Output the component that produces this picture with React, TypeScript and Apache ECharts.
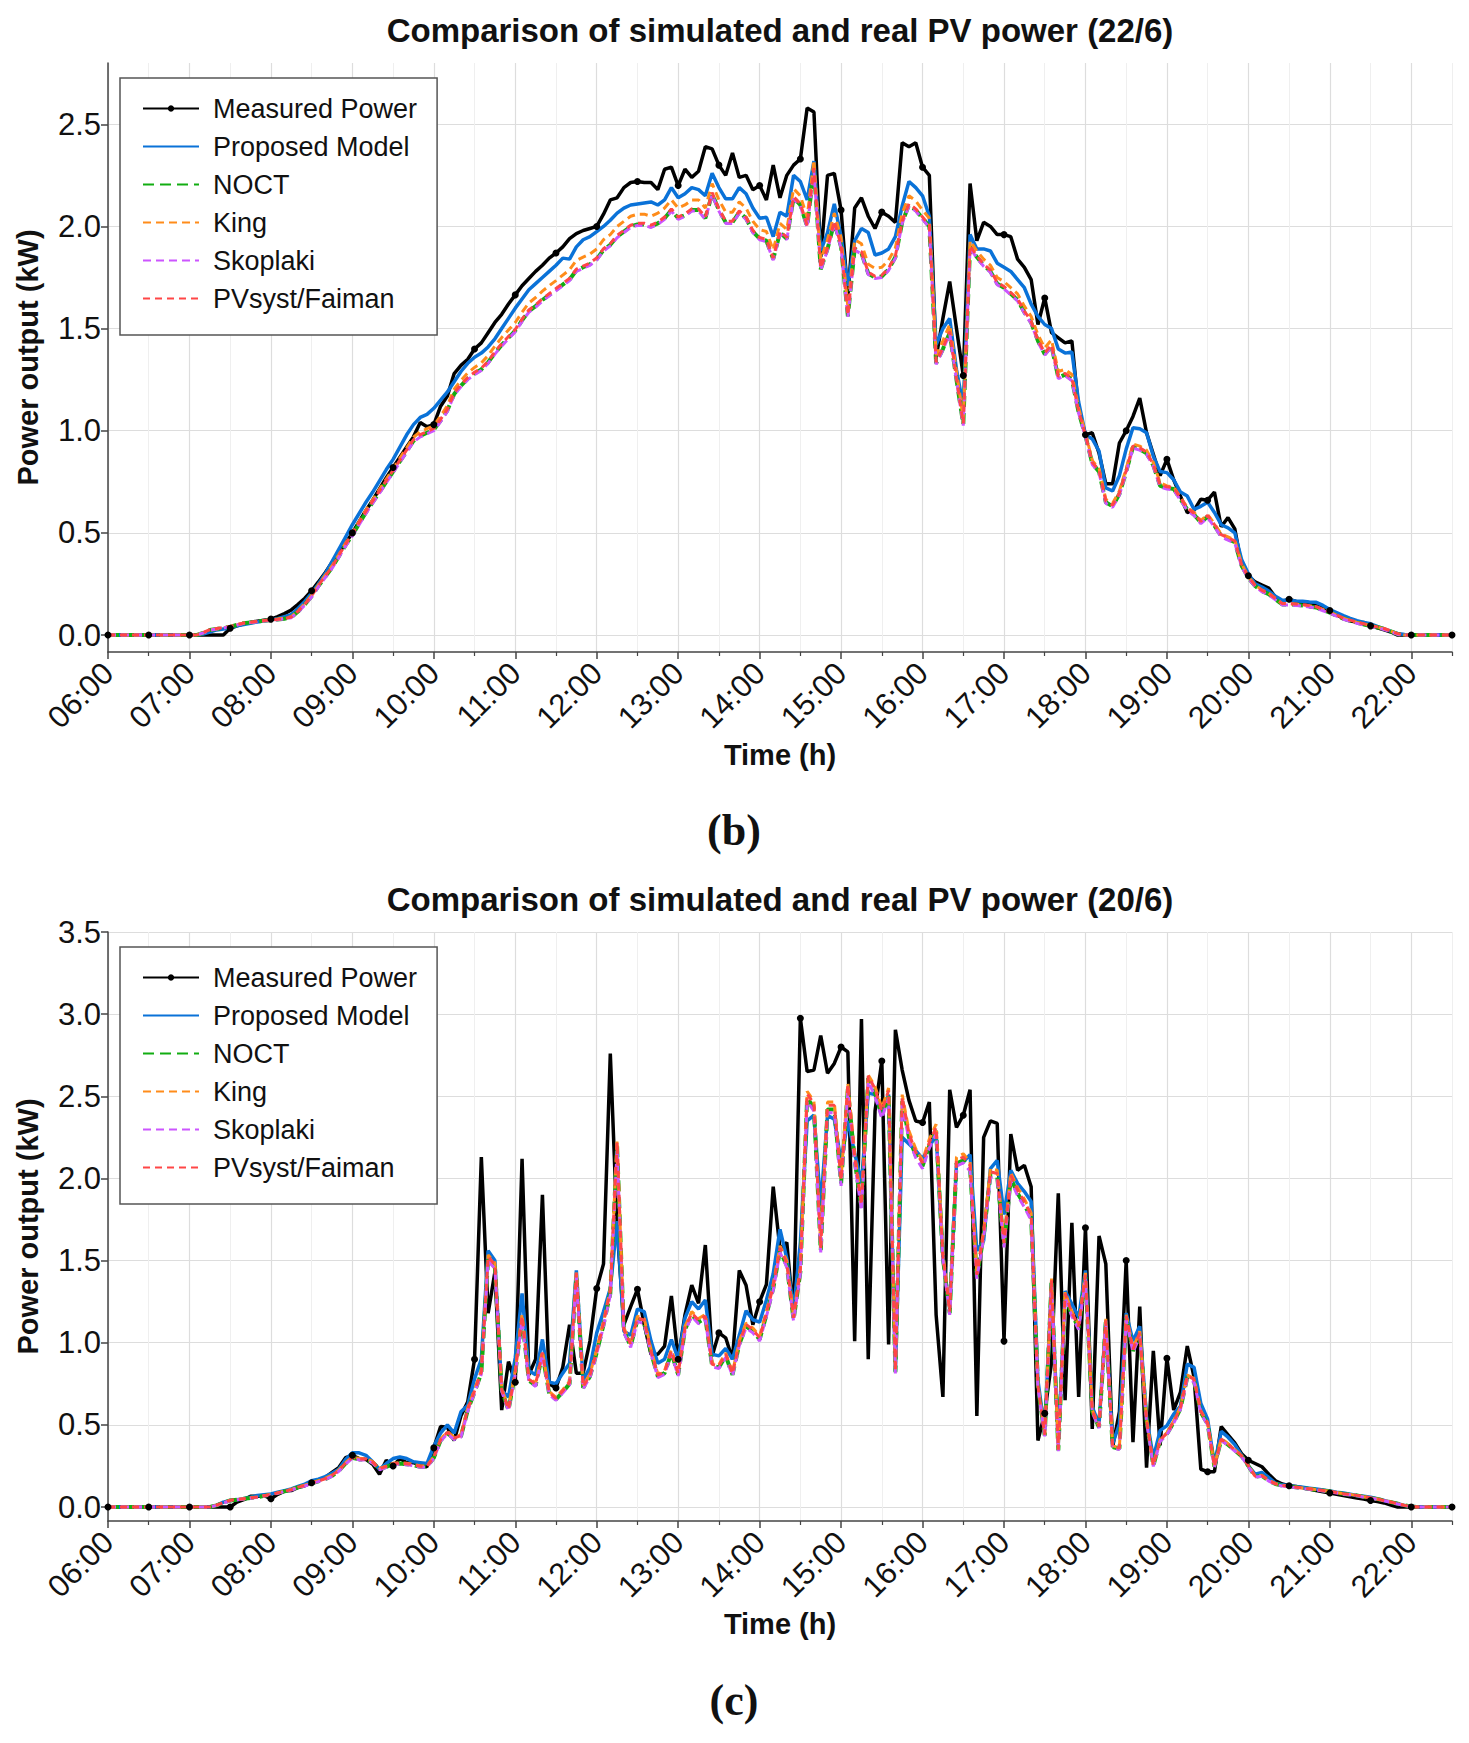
import React, { useEffect, useRef } from "react";
import * as echarts from "echarts";

// ---------- sampling (5-minute records starting 06:00) ----------
const START_HOUR = 6;
const STEP_MIN = 5;

// ---------- tick labels ----------
const hourTicks = [6, 7, 8, 9, 10, 11, 12, 13, 14, 15, 16, 17, 18, 19, 20, 21, 22];
const halfHourTicks = [6.5, 7.5, 8.5, 9.5, 10.5, 11.5, 12.5, 13.5, 14.5, 15.5, 16.5, 17.5, 18.5, 19.5, 20.5, 21.5, 22.5];
const yTicks22 = [0, 0.5, 1, 1.5, 2, 2.5];
const yTicks20 = [0, 0.5, 1, 1.5, 2, 2.5, 3, 3.5];

const seriesNames = ["Measured Power", "Proposed Model", "NOCT", "King", "Skoplaki", "PVsyst/Faiman"];
const chartTitles = [
  "Comparison of simulated and real PV power (22/6)",
  "Comparison of simulated and real PV power (20/6)",
];
const panelLabels = ["(b)", "(c)"];

// ================= 22/6 (one row = one hour, 12 x 5 min) =================
const measured22 = [
  0, 0, 0, 0, 0, 0, 0, 0, 0, 0, 0, 0,
  0, 0, 0, 0, 0, 0, 0.033, 0.045, 0.055, 0.062, 0.068, 0.073,
  0.078, 0.09, 0.105, 0.123, 0.15, 0.18, 0.217, 0.26, 0.305, 0.355, 0.4, 0.45,
  0.5, 0.555, 0.61, 0.66, 0.715, 0.77, 0.82, 0.87, 0.92, 0.97, 1.04, 1.02,
  1.03, 1.12, 1.17, 1.28, 1.32, 1.35, 1.4, 1.43, 1.48, 1.53, 1.57, 1.62,
  1.665, 1.71, 1.745, 1.78, 1.81, 1.845, 1.87, 1.9, 1.94, 1.965, 1.98, 1.99,
  2.0, 2.06, 2.13, 2.14, 2.19, 2.215, 2.22, 2.215, 2.215, 2.18, 2.28, 2.29,
  2.2, 2.28, 2.24, 2.27, 2.39, 2.38, 2.3, 2.25, 2.36, 2.24, 2.25, 2.18,
  2.2, 2.13, 2.3, 2.14, 2.25, 2.3, 2.33, 2.58, 2.56, 1.85, 2.25, 2.26,
  2.08, 1.66, 2.09, 2.14, 2.05, 1.99, 2.07, 2.05, 2.02, 2.41, 2.39, 2.41,
  2.29, 2.25, 1.36, 1.55, 1.73, 1.5, 1.27, 2.21, 1.93, 2.02, 2.0, 1.96,
  1.96, 1.95, 1.84, 1.8, 1.74, 1.52, 1.65, 1.48, 1.455, 1.43, 1.44, 1.1,
  0.98, 0.99, 0.89, 0.74, 0.74, 0.94, 1.0, 1.07, 1.16, 0.99, 0.885, 0.78,
  0.86, 0.76, 0.68, 0.6, 0.61, 0.665, 0.66, 0.7, 0.53, 0.575, 0.52, 0.34,
  0.29, 0.26, 0.245, 0.23, 0.185, 0.165, 0.175, 0.165, 0.15, 0.155, 0.145, 0.135,
  0.12, 0.1, 0.08, 0.07, 0.062, 0.062, 0.045, 0.035, 0.025, 0.015, 0, 0,
  0, 0, 0, 0, 0, 0, 0,
];
const proposed22 = [
  0, 0, 0, 0, 0, 0, 0, 0, 0, 0, 0, 0,
  0, 0, 0.005, 0.015, 0.025, 0.03, 0.035, 0.045, 0.052, 0.058, 0.064, 0.07,
  0.075, 0.08, 0.09, 0.1, 0.13, 0.165, 0.205, 0.25, 0.3, 0.36, 0.42, 0.48,
  0.54, 0.595, 0.65, 0.7, 0.755, 0.81, 0.86, 0.92, 0.98, 1.03, 1.065, 1.08,
  1.11, 1.15, 1.19, 1.24, 1.29, 1.33, 1.36, 1.38, 1.41, 1.45, 1.5, 1.55,
  1.6, 1.645, 1.69, 1.72, 1.75, 1.78, 1.81, 1.845, 1.84, 1.9, 1.935, 1.95,
  1.975, 2.0, 2.03, 2.065, 2.09, 2.105, 2.11, 2.115, 2.12, 2.105, 2.13, 2.19,
  2.14, 2.16, 2.19, 2.18, 2.15, 2.26, 2.19, 2.135, 2.135, 2.19, 2.16, 2.09,
  2.04, 2.045, 1.95, 2.07, 2.05, 2.25, 2.22, 2.13, 2.32, 1.88, 1.97, 2.11,
  1.95, 1.71, 1.93, 1.99, 1.97, 1.86, 1.87, 1.89, 1.95, 2.1, 2.22, 2.19,
  2.15, 2.05, 1.42, 1.5, 1.55, 1.3, 1.12, 1.96, 1.89, 1.89, 1.88, 1.82,
  1.8, 1.78, 1.74, 1.7, 1.62, 1.56, 1.52, 1.5, 1.4, 1.38, 1.385, 1.14,
  0.98, 0.96, 0.9, 0.72, 0.705, 0.78, 0.91, 1.015, 1.01, 0.99, 0.875, 0.8,
  0.795, 0.76, 0.7, 0.68, 0.615, 0.63, 0.65, 0.6, 0.54, 0.525, 0.5, 0.37,
  0.3, 0.25, 0.235, 0.215, 0.19, 0.17, 0.17, 0.167, 0.165, 0.162, 0.16, 0.145,
  0.125, 0.11, 0.095, 0.082, 0.07, 0.062, 0.055, 0.042, 0.03, 0.018, 0.008, 0.003,
  0, 0, 0, 0, 0, 0, 0,
];
const noct22 = [
  0, 0, 0, 0, 0, 0, 0, 0, 0, 0, 0, 0,
  0, 0, 0.01, 0.025, 0.03, 0.035, 0.04, 0.05, 0.058, 0.062, 0.066, 0.07,
  0.073, 0.076, 0.08, 0.087, 0.115, 0.15, 0.19, 0.24, 0.285, 0.33, 0.385, 0.44,
  0.49, 0.545, 0.6, 0.65, 0.7, 0.75, 0.8, 0.85, 0.9, 0.95, 0.975, 0.99,
  1.005, 1.05, 1.1, 1.18, 1.22, 1.255, 1.28, 1.3, 1.335, 1.38, 1.42, 1.455,
  1.49, 1.54, 1.585, 1.61, 1.64, 1.665, 1.69, 1.715, 1.74, 1.785, 1.8, 1.815,
  1.84, 1.885, 1.91, 1.95, 1.975, 2.0, 2.01, 2.01, 2.0, 2.015, 2.04, 2.08,
  2.04, 2.055, 2.08, 2.08, 2.04, 2.16, 2.08, 2.02, 2.02, 2.07, 2.04, 1.975,
  1.94, 1.93, 1.84, 1.97, 1.94, 2.14, 2.105, 2.0, 2.28, 1.79, 1.89, 2.02,
  1.9, 1.56, 1.89, 1.87, 1.77, 1.75, 1.755, 1.79, 1.85, 2.02, 2.105, 2.08,
  2.04, 2.0, 1.33, 1.4, 1.48, 1.25, 1.03, 1.9, 1.85, 1.81, 1.78, 1.72,
  1.7, 1.67, 1.64, 1.58, 1.53, 1.44, 1.375, 1.415, 1.26, 1.275, 1.25, 1.09,
  0.975, 0.84, 0.8, 0.65, 0.63, 0.69, 0.8, 0.92, 0.91, 0.89, 0.83, 0.73,
  0.72, 0.715, 0.665, 0.615, 0.59, 0.55, 0.58, 0.535, 0.485, 0.47, 0.455, 0.34,
  0.28, 0.24, 0.215, 0.2, 0.175, 0.15, 0.15, 0.148, 0.145, 0.14, 0.135, 0.122,
  0.11, 0.095, 0.08, 0.07, 0.06, 0.052, 0.045, 0.038, 0.03, 0.018, 0.005, 0,
  0, 0, 0, 0, 0, 0, 0,
];
const king22 = [
  0, 0, 0, 0, 0, 0, 0, 0, 0, 0, 0, 0,
  0, 0, 0.01, 0.025, 0.03, 0.035, 0.04, 0.05, 0.058, 0.062, 0.066, 0.07,
  0.075, 0.078, 0.083, 0.09, 0.118, 0.155, 0.195, 0.245, 0.292, 0.338, 0.393, 0.45,
  0.5, 0.556, 0.612, 0.662, 0.713, 0.764, 0.815, 0.866, 0.917, 0.968, 0.995, 1.01,
  1.025, 1.072, 1.123, 1.204, 1.246, 1.283, 1.31, 1.332, 1.368, 1.414, 1.456, 1.493,
  1.53, 1.58, 1.625, 1.652, 1.683, 1.71, 1.735, 1.762, 1.788, 1.834, 1.85, 1.865,
  1.89, 1.935, 1.96, 2.0, 2.025, 2.05, 2.06, 2.06, 2.05, 2.065, 2.09, 2.13,
  2.09, 2.105, 2.13, 2.13, 2.09, 2.21, 2.13, 2.07, 2.07, 2.12, 2.09, 2.025,
  1.985, 1.975, 1.885, 2.015, 1.985, 2.185, 2.15, 2.045, 2.325, 1.835, 1.935, 2.065,
  1.945, 1.605, 1.935, 1.915, 1.815, 1.795, 1.8, 1.835, 1.895, 2.065, 2.15, 2.125,
  2.08, 2.04, 1.37, 1.44, 1.52, 1.29, 1.06, 1.93, 1.88, 1.84, 1.81, 1.75,
  1.73, 1.7, 1.67, 1.61, 1.56, 1.47, 1.405, 1.445, 1.29, 1.3, 1.275, 1.11,
  0.99, 0.855, 0.815, 0.665, 0.645, 0.705, 0.815, 0.935, 0.925, 0.905, 0.845, 0.745,
  0.73, 0.725, 0.675, 0.625, 0.6, 0.56, 0.59, 0.545, 0.495, 0.48, 0.465, 0.35,
  0.285, 0.245, 0.22, 0.205, 0.178, 0.153, 0.153, 0.151, 0.148, 0.143, 0.138, 0.125,
  0.112, 0.097, 0.082, 0.072, 0.062, 0.054, 0.046, 0.039, 0.031, 0.019, 0.006, 0,
  0, 0, 0, 0, 0, 0, 0,
];
const skoplaki22 = [
  0, 0, 0, 0, 0, 0, 0, 0, 0, 0, 0, 0,
  0, 0, 0.01, 0.024, 0.03, 0.035, 0.04, 0.049, 0.057, 0.061, 0.065, 0.069,
  0.072, 0.075, 0.079, 0.085, 0.112, 0.147, 0.186, 0.236, 0.281, 0.326, 0.38, 0.435,
  0.485, 0.54, 0.595, 0.645, 0.695, 0.745, 0.795, 0.845, 0.895, 0.945, 0.97, 0.985,
  1.0, 1.045, 1.095, 1.175, 1.215, 1.25, 1.275, 1.295, 1.33, 1.375, 1.415, 1.45,
  1.485, 1.535, 1.58, 1.605, 1.635, 1.66, 1.685, 1.71, 1.735, 1.78, 1.795, 1.81,
  1.835, 1.88, 1.905, 1.945, 1.97, 1.995, 2.005, 2.005, 1.995, 2.01, 2.035, 2.075,
  2.035, 2.05, 2.075, 2.075, 2.035, 2.155, 2.075, 2.015, 2.015, 2.065, 2.035, 1.97,
  1.935, 1.925, 1.835, 1.965, 1.935, 2.135, 2.1, 1.995, 2.275, 1.785, 1.885, 2.015,
  1.895, 1.555, 1.885, 1.865, 1.765, 1.745, 1.75, 1.785, 1.845, 2.015, 2.1, 2.075,
  2.035, 1.995, 1.325, 1.395, 1.475, 1.245, 1.025, 1.895, 1.845, 1.805, 1.775, 1.715,
  1.695, 1.665, 1.635, 1.575, 1.525, 1.435, 1.37, 1.41, 1.255, 1.27, 1.245, 1.085,
  0.97, 0.835, 0.795, 0.645, 0.625, 0.685, 0.795, 0.915, 0.905, 0.885, 0.825, 0.725,
  0.715, 0.71, 0.66, 0.61, 0.585, 0.545, 0.575, 0.53, 0.48, 0.465, 0.45, 0.335,
  0.277, 0.237, 0.212, 0.197, 0.172, 0.147, 0.147, 0.145, 0.142, 0.137, 0.132, 0.119,
  0.107, 0.092, 0.077, 0.067, 0.057, 0.049, 0.042, 0.035, 0.027, 0.015, 0.003, 0,
  0, 0, 0, 0, 0, 0, 0,
];
const pvsyst22 = [
  0, 0, 0, 0, 0, 0, 0, 0, 0, 0, 0, 0,
  0, 0, 0.012, 0.027, 0.032, 0.037, 0.042, 0.051, 0.059, 0.063, 0.067, 0.071,
  0.074, 0.077, 0.081, 0.088, 0.117, 0.152, 0.192, 0.243, 0.289, 0.334, 0.39, 0.445,
  0.496, 0.551, 0.606, 0.656, 0.706, 0.756, 0.806, 0.856, 0.906, 0.956, 0.981, 0.996,
  1.011, 1.056, 1.106, 1.186, 1.226, 1.261, 1.286, 1.306, 1.341, 1.386, 1.426, 1.461,
  1.496, 1.546, 1.591, 1.616, 1.646, 1.671, 1.696, 1.721, 1.746, 1.791, 1.806, 1.821,
  1.846, 1.891, 1.916, 1.956, 1.981, 2.006, 2.016, 2.016, 2.006, 2.021, 2.046, 2.086,
  2.046, 2.061, 2.086, 2.086, 2.046, 2.166, 2.086, 2.026, 2.026, 2.076, 2.046, 1.981,
  1.946, 1.936, 1.846, 1.976, 1.946, 2.146, 2.111, 2.006, 2.286, 1.796, 1.896, 2.026,
  1.906, 1.566, 1.896, 1.876, 1.776, 1.756, 1.761, 1.796, 1.856, 2.026, 2.111, 2.086,
  2.046, 2.006, 1.336, 1.406, 1.486, 1.256, 1.036, 1.906, 1.856, 1.816, 1.786, 1.726,
  1.706, 1.676, 1.646, 1.586, 1.536, 1.446, 1.381, 1.421, 1.266, 1.281, 1.256, 1.096,
  0.981, 0.846, 0.806, 0.656, 0.636, 0.696, 0.806, 0.926, 0.916, 0.896, 0.836, 0.736,
  0.726, 0.721, 0.671, 0.621, 0.596, 0.556, 0.586, 0.541, 0.491, 0.476, 0.461, 0.346,
  0.284, 0.244, 0.219, 0.204, 0.179, 0.154, 0.154, 0.152, 0.149, 0.144, 0.139, 0.126,
  0.113, 0.098, 0.083, 0.073, 0.063, 0.055, 0.047, 0.04, 0.032, 0.02, 0.007, 0,
  0, 0, 0, 0, 0, 0, 0,
];

// ================= 20/6 =================
const measured20 = [
  0, 0, 0, 0, 0, 0, 0, 0, 0, 0, 0, 0,
  0, 0, 0, 0, 0, 0, 0, 0.03, 0.045, 0.065, 0.065, 0.07,
  0.05, 0.077, 0.097, 0.1, 0.12, 0.13, 0.148, 0.16, 0.18, 0.21, 0.24, 0.3,
  0.315, 0.295, 0.29, 0.26, 0.2, 0.285, 0.25, 0.295, 0.27, 0.27, 0.255, 0.245,
  0.36, 0.49, 0.485, 0.405, 0.555, 0.64, 0.9, 2.13, 1.18, 1.43, 0.59, 0.885,
  0.76, 2.12, 0.805, 0.9, 1.9, 0.75, 0.725, 0.85, 1.11, 0.815, 0.815, 1.01,
  1.33, 1.48, 2.76, 1.7, 1.11, 1.22, 1.325, 1.11, 0.93, 0.93, 0.98, 1.285,
  0.9, 1.17, 1.35, 1.24, 1.595, 0.92, 1.06, 1.03, 0.9, 1.44, 1.35, 1.11,
  1.25, 1.355, 1.95, 1.57, 1.61, 1.16, 2.975, 2.65, 2.66, 2.87, 2.64, 2.7,
  2.8, 2.77, 1.01, 2.97, 0.9, 2.41, 2.715, 0.99, 2.905, 2.66, 2.475, 2.35,
  2.34, 2.465, 1.17, 0.67, 2.54, 2.31, 2.385, 2.54, 0.555, 2.25, 2.35, 2.335,
  1.01, 2.27, 2.05, 2.08, 1.95, 0.405, 0.57, 0.88, 1.91, 0.65, 1.73, 0.67,
  1.7, 0.475, 1.65, 1.48, 0.365, 0.58, 1.5, 0.395, 1.22, 0.24, 0.95, 0.375,
  0.905, 0.59, 0.7, 0.98, 0.79, 0.23, 0.215, 0.215, 0.49, 0.44, 0.39, 0.325,
  0.285, 0.265, 0.245, 0.2, 0.16, 0.14, 0.13, 0.125, 0.118, 0.11, 0.1, 0.093,
  0.085, 0.078, 0.07, 0.062, 0.055, 0.048, 0.04, 0.033, 0.025, 0.012, 0, 0,
  0, 0, 0, 0, 0, 0, 0,
];
const proposed20 = [
  0, 0, 0, 0, 0, 0, 0, 0, 0, 0, 0, 0,
  0, 0, 0, 0, 0.01, 0.03, 0.04, 0.045, 0.05, 0.06, 0.07, 0.075,
  0.08, 0.09, 0.1, 0.11, 0.125, 0.14, 0.16, 0.17, 0.185, 0.205, 0.23, 0.29,
  0.33, 0.33, 0.315, 0.275, 0.23, 0.265, 0.295, 0.305, 0.295, 0.275, 0.27, 0.265,
  0.37, 0.45, 0.5, 0.45, 0.58, 0.62, 0.78, 0.9, 1.56, 1.5, 0.71, 0.67,
  0.91, 1.3, 0.83, 0.805, 1.02, 0.76, 0.75, 0.815, 0.875, 1.44, 0.77, 0.85,
  1.06, 1.19, 1.33, 1.74, 1.07, 1.045, 1.205, 1.19, 1.01, 0.875, 0.9, 1.02,
  0.9, 1.15, 1.25, 1.205, 1.26, 0.93, 0.92, 0.965, 0.9, 1.045, 1.195, 1.14,
  1.125, 1.26, 1.42, 1.69, 1.515, 1.195, 1.61, 2.35, 2.385, 1.835, 2.385, 2.36,
  2.1, 2.35, 2.155, 1.97, 2.52, 2.51, 2.385, 2.51, 0.83, 2.25, 2.21, 2.17,
  2.12, 2.19, 2.27, 1.515, 1.205, 2.09, 2.1, 2.145, 1.56, 1.62, 2.06, 2.11,
  1.78, 2.05, 1.97, 1.92, 1.86, 0.77, 0.465, 1.365, 0.385, 1.315, 1.235, 1.155,
  1.44, 0.61, 0.505, 1.135, 0.385, 0.505, 1.18, 1.01, 1.1, 0.545, 0.3, 0.465,
  0.495, 0.565, 0.615, 0.87, 0.85, 0.63, 0.535, 0.26, 0.46, 0.425, 0.38, 0.315,
  0.25, 0.2, 0.21, 0.18, 0.145, 0.135, 0.13, 0.125, 0.12, 0.115, 0.11, 0.104,
  0.098, 0.09, 0.085, 0.078, 0.07, 0.065, 0.06, 0.05, 0.04, 0.03, 0.02, 0.01,
  0.005, 0, 0, 0, 0, 0, 0,
];
const noct20 = [
  0, 0, 0, 0, 0, 0, 0, 0, 0, 0, 0, 0,
  0, 0, 0, 0, 0.01, 0.025, 0.04, 0.045, 0.05, 0.055, 0.06, 0.068,
  0.075, 0.085, 0.095, 0.105, 0.12, 0.13, 0.145, 0.157, 0.17, 0.19, 0.22, 0.265,
  0.3, 0.29, 0.29, 0.27, 0.23, 0.245, 0.26, 0.265, 0.26, 0.255, 0.245, 0.245,
  0.3, 0.405, 0.45, 0.415, 0.43, 0.59, 0.7, 0.815, 1.51, 1.46, 0.71, 0.59,
  0.815, 1.15, 0.77, 0.74, 0.93, 0.69, 0.655, 0.7, 0.75, 1.41, 0.725, 0.795,
  0.94, 1.11, 1.3, 2.2, 1.07, 0.98, 1.14, 1.125, 0.94, 0.795, 0.815, 0.94,
  0.805, 1.08, 1.17, 1.125, 1.15, 0.86, 0.85, 0.92, 0.805, 0.99, 1.1, 1.07,
  1.02, 1.17, 1.33, 1.56, 1.47, 1.14, 1.43, 2.49, 2.43, 1.56, 2.42, 2.42,
  1.97, 2.545, 2.11, 1.82, 2.61, 2.52, 2.385, 2.51, 0.82, 2.47, 2.25, 2.14,
  2.075, 2.2, 2.29, 1.515, 1.18, 2.09, 2.11, 2.06, 1.4, 1.65, 2.02, 2.01,
  1.59, 2.0, 1.91, 1.84, 1.76, 0.73, 0.435, 1.365, 0.345, 1.285, 1.17, 1.09,
  1.4, 0.58, 0.485, 1.125, 0.365, 0.355, 1.15, 0.95, 1.05, 0.525, 0.25, 0.405,
  0.445, 0.515, 0.6, 0.79, 0.77, 0.575, 0.505, 0.245, 0.41, 0.38, 0.345, 0.31,
  0.25, 0.185, 0.19, 0.16, 0.14, 0.13, 0.125, 0.12, 0.115, 0.11, 0.105, 0.1,
  0.095, 0.088, 0.08, 0.075, 0.07, 0.062, 0.055, 0.048, 0.04, 0.03, 0.02, 0.01,
  0.003, 0, 0, 0, 0, 0, 0,
];
const king20 = [
  0, 0, 0, 0, 0, 0, 0, 0, 0, 0, 0, 0,
  0, 0, 0, 0, 0.01, 0.025, 0.04, 0.045, 0.05, 0.056, 0.061, 0.069,
  0.076, 0.086, 0.097, 0.107, 0.122, 0.133, 0.148, 0.16, 0.174, 0.195, 0.225, 0.27,
  0.306, 0.296, 0.296, 0.276, 0.235, 0.25, 0.266, 0.271, 0.266, 0.26, 0.25, 0.25,
  0.307, 0.413, 0.46, 0.424, 0.44, 0.602, 0.714, 0.83, 1.535, 1.485, 0.724, 0.602,
  0.83, 1.175, 0.786, 0.755, 0.948, 0.704, 0.668, 0.714, 0.765, 1.435, 0.74, 0.81,
  0.958, 1.13, 1.325, 2.23, 1.09, 1.0, 1.162, 1.147, 0.958, 0.81, 0.83, 0.958,
  0.82, 1.1, 1.19, 1.147, 1.172, 0.877, 0.867, 0.938, 0.82, 1.01, 1.12, 1.09,
  1.04, 1.19, 1.355, 1.59, 1.5, 1.162, 1.46, 2.53, 2.47, 1.59, 2.465, 2.465,
  2.0, 2.58, 2.15, 1.855, 2.63, 2.56, 2.43, 2.55, 0.835, 2.51, 2.29, 2.18,
  2.11, 2.24, 2.33, 1.545, 1.2, 2.13, 2.15, 2.1, 1.425, 1.68, 2.06, 2.05,
  1.62, 2.035, 1.945, 1.875, 1.79, 0.745, 0.445, 1.39, 0.352, 1.31, 1.19, 1.11,
  1.425, 0.59, 0.494, 1.145, 0.372, 0.362, 1.17, 0.965, 1.07, 0.535, 0.255, 0.412,
  0.452, 0.523, 0.61, 0.803, 0.783, 0.585, 0.513, 0.25, 0.417, 0.386, 0.35, 0.314,
  0.253, 0.188, 0.193, 0.162, 0.142, 0.131, 0.126, 0.121, 0.116, 0.111, 0.106, 0.101,
  0.096, 0.089, 0.081, 0.076, 0.071, 0.063, 0.056, 0.049, 0.041, 0.031, 0.021, 0.01,
  0.003, 0, 0, 0, 0, 0, 0,
];
const skoplaki20 = [
  0, 0, 0, 0, 0, 0, 0, 0, 0, 0, 0, 0,
  0, 0, 0, 0, 0.01, 0.024, 0.039, 0.044, 0.049, 0.054, 0.059, 0.067,
  0.074, 0.084, 0.094, 0.103, 0.118, 0.128, 0.143, 0.155, 0.168, 0.187, 0.217, 0.262,
  0.296, 0.287, 0.287, 0.267, 0.227, 0.242, 0.257, 0.262, 0.257, 0.252, 0.242, 0.242,
  0.296, 0.4, 0.445, 0.41, 0.425, 0.584, 0.694, 0.808, 1.5, 1.45, 0.704, 0.584,
  0.808, 1.14, 0.764, 0.734, 0.922, 0.684, 0.65, 0.694, 0.744, 1.4, 0.72, 0.788,
  0.932, 1.1, 1.29, 2.18, 1.06, 0.972, 1.13, 1.115, 0.932, 0.788, 0.808, 0.932,
  0.798, 1.07, 1.16, 1.115, 1.14, 0.853, 0.843, 0.912, 0.798, 0.982, 1.09, 1.06,
  1.01, 1.16, 1.32, 1.55, 1.46, 1.13, 1.42, 2.47, 2.41, 1.55, 2.4, 2.4,
  1.955, 2.525, 2.095, 1.805, 2.59, 2.5, 2.365, 2.49, 0.813, 2.45, 2.235, 2.125,
  2.06, 2.185, 2.275, 1.505, 1.17, 2.075, 2.095, 2.045, 1.39, 1.635, 2.005, 1.995,
  1.58, 1.985, 1.895, 1.825, 1.745, 0.725, 0.43, 1.355, 0.34, 1.275, 1.16, 1.08,
  1.39, 0.575, 0.48, 1.115, 0.36, 0.35, 1.14, 0.942, 1.04, 0.52, 0.247, 0.4,
  0.44, 0.51, 0.594, 0.782, 0.762, 0.569, 0.5, 0.242, 0.405, 0.376, 0.341, 0.306,
  0.247, 0.183, 0.188, 0.158, 0.138, 0.128, 0.123, 0.118, 0.113, 0.108, 0.103, 0.098,
  0.093, 0.086, 0.078, 0.073, 0.068, 0.06, 0.053, 0.046, 0.038, 0.028, 0.018, 0.008,
  0.002, 0, 0, 0, 0, 0, 0,
];
const pvsyst20 = [
  0, 0, 0, 0, 0, 0, 0, 0, 0, 0, 0, 0,
  0, 0, 0, 0, 0.012, 0.027, 0.041, 0.046, 0.051, 0.056, 0.061, 0.069,
  0.076, 0.086, 0.096, 0.106, 0.121, 0.131, 0.147, 0.159, 0.172, 0.193, 0.223, 0.268,
  0.303, 0.293, 0.293, 0.273, 0.233, 0.248, 0.263, 0.268, 0.263, 0.258, 0.248, 0.248,
  0.304, 0.41, 0.455, 0.42, 0.435, 0.596, 0.707, 0.823, 1.525, 1.475, 0.717, 0.596,
  0.823, 1.162, 0.778, 0.748, 0.94, 0.697, 0.662, 0.707, 0.758, 1.425, 0.733, 0.803,
  0.95, 1.12, 1.315, 2.22, 1.08, 0.99, 1.152, 1.137, 0.95, 0.803, 0.823, 0.95,
  0.813, 1.09, 1.18, 1.137, 1.162, 0.869, 0.859, 0.93, 0.813, 1.0, 1.112, 1.08,
  1.03, 1.18, 1.343, 1.576, 1.485, 1.152, 1.445, 2.515, 2.455, 1.576, 2.445, 2.445,
  1.99, 2.57, 2.13, 1.84, 2.625, 2.545, 2.41, 2.535, 0.828, 2.495, 2.275, 2.16,
  2.095, 2.22, 2.31, 1.53, 1.19, 2.11, 2.13, 2.08, 1.414, 1.666, 2.04, 2.03,
  1.606, 2.02, 1.93, 1.86, 1.778, 0.737, 0.44, 1.38, 0.349, 1.3, 1.182, 1.1,
  1.414, 0.586, 0.49, 1.136, 0.369, 0.359, 1.162, 0.96, 1.06, 0.53, 0.253, 0.409,
  0.449, 0.52, 0.606, 0.798, 0.778, 0.581, 0.51, 0.248, 0.414, 0.384, 0.348, 0.313,
  0.252, 0.187, 0.192, 0.162, 0.141, 0.131, 0.126, 0.121, 0.116, 0.111, 0.106, 0.101,
  0.096, 0.089, 0.081, 0.076, 0.071, 0.063, 0.056, 0.048, 0.04, 0.03, 0.02, 0.01,
  0.003, 0, 0, 0, 0, 0, 0,
];

// ---------- styles ----------
const FONT = "Liberation Sans";
const AXIS_COLOR = "#444";
const TEXT_COLOR = "#111";
const TICK_FONT = 31;
const AXIS_NAME_FONT = 29;
const seriesStyles = [
  { color: "#000000", width: 3.5, type: "solid" as any },
  { color: "#0a72d8", width: 3.5, type: "solid" as any },
  { color: "#12ad12", width: 4, type: [11, 6] as any },
  { color: "#ff8c1a", width: 3, type: [8, 5] as any },
  { color: "#cc55ff", width: 3, type: [8, 5] as any },
  { color: "#ff4646", width: 3, type: [7, 5] as any },
];

const fmtHour = (v: number) => `${String(Math.round(v)).padStart(2, "0")}:00`;
const timeOf = (i: number) => START_HOUR + (i * STEP_MIN) / 60;

function buildSeries(values: number[][], gridIdx: number) {
  return values.map((arr, k) => {
    const st = seriesStyles[k];
    const isMeasured = k === 0;
    const data = arr.map((v, i) =>
      isMeasured
        ? { value: [timeOf(i), v], symbol: i % 6 === 0 ? "circle" : "none" }
        : [timeOf(i), v]
    );
    return {
      type: "line",
      name: seriesNames[k],
      xAxisIndex: gridIdx * 2,
      yAxisIndex: gridIdx,
      data,
      symbol: isMeasured ? "circle" : "none",
      symbolSize: 7,
      showSymbol: isMeasured,
      itemStyle: { color: st.color },
      lineStyle: { color: st.color, width: st.width, type: st.type },
      emphasis: { disabled: true },
      silent: true,
      animation: false,
      z: 2,
    };
  });
}

function buildXAxes(gridIdx: number) {
  return [
    {
      type: "value",
      gridIndex: gridIdx,
      min: 6,
      max: 22.5,
      position: "bottom",
      name: "Time (h)",
      nameLocation: "middle",
      nameGap: 88,
      nameTextStyle: { fontSize: AXIS_NAME_FONT, fontWeight: "bold", color: TEXT_COLOR, fontFamily: FONT },
      axisLine: { show: true, onZero: false, lineStyle: { color: AXIS_COLOR, width: 1.5 } },
      axisTick: { show: true, customValues: hourTicks, length: 7, lineStyle: { color: AXIS_COLOR, width: 1.5 } },
      axisLabel: {
        show: true,
        customValues: hourTicks,
        rotate: 45,
        margin: 16,
        fontSize: TICK_FONT,
        color: TEXT_COLOR,
        fontFamily: FONT,
        formatter: fmtHour,
      },
      splitLine: { show: true, lineStyle: { color: "#dddddd", width: 1.2 } },
    },
    {
      type: "value",
      gridIndex: gridIdx,
      min: 6,
      max: 22.5,
      position: "bottom",
      axisLine: { show: false, onZero: false },
      axisTick: { show: true, customValues: halfHourTicks, length: 4, lineStyle: { color: AXIS_COLOR, width: 1.2 } },
      axisLabel: { show: false },
      splitLine: { show: true, lineStyle: { color: "#efefef", width: 1 } },
    },
  ];
}

function buildYAxis(gridIdx: number, min: number, max: number, ticks: number[]) {
  return {
    type: "value",
    gridIndex: gridIdx,
    min,
    max,
    name: "Power output (kW)",
    nameLocation: "middle",
    nameGap: 66,
    nameTextStyle: { fontSize: AXIS_NAME_FONT, fontWeight: "bold", color: TEXT_COLOR, fontFamily: FONT },
    axisLine: { show: true, onZero: false, lineStyle: { color: AXIS_COLOR, width: 1.5 } },
    axisTick: { show: true, customValues: ticks, length: 7, lineStyle: { color: AXIS_COLOR, width: 1.5 } },
    axisLabel: {
      show: true,
      customValues: ticks,
      margin: 7,
      fontSize: TICK_FONT,
      color: TEXT_COLOR,
      fontFamily: FONT,
      formatter: (v: number) => v.toFixed(1),
    },
    splitLine: { show: true, lineStyle: { color: "#dddddd", width: 1.2 } },
  };
}

function buildLegend(top: number) {
  return {
    orient: "vertical",
    left: 120,
    top,
    padding: [17, 20, 23, 22],
    itemWidth: 56,
    itemHeight: 8,
    itemGap: 11,
    selectedMode: false,
    backgroundColor: "#ffffff",
    borderColor: "#555555",
    borderWidth: 1.5,
    borderRadius: 0,
    textStyle: { fontSize: 27, lineHeight: 26, color: TEXT_COLOR, fontFamily: FONT, padding: [0, 0, 0, 9] },
    data: seriesNames.map((n, k) => ({
      name: n,
      itemStyle: k === 0 ? { color: "#000", opacity: 1 } : { opacity: 0 },
    })),
  };
}

export default function App() {
  const ref = useRef<HTMLDivElement>(null);

  useEffect(() => {
    if (!ref.current) return;
    const chart = echarts.init(ref.current, undefined, { renderer: "svg" });
    const titleStyle = { fontSize: 33, fontWeight: "bold", color: TEXT_COLOR, fontFamily: FONT };
    const labelStyle = {
      fontSize: 44,
      fontWeight: "bold",
      fontFamily: "Liberation Serif",
      fill: TEXT_COLOR,
      align: "center",
      verticalAlign: "middle",
    };
    const option: any = {
      animation: false,
      backgroundColor: "#ffffff",
      textStyle: { fontFamily: FONT },
      title: [
        { text: chartTitles[0], left: 780, top: 14, textAlign: "center", padding: 0, textStyle: titleStyle },
        { text: chartTitles[1], left: 780, top: 883, textAlign: "center", padding: 0, textStyle: titleStyle },
      ],
      legend: [buildLegend(78), buildLegend(947)],
      grid: [
        { left: 108, right: 17, top: 63, height: 589, containLabel: false },
        { left: 108, right: 17, top: 932, height: 589, containLabel: false },
      ],
      xAxis: [...buildXAxes(0), ...buildXAxes(1)],
      yAxis: [buildYAxis(0, -0.083, 2.8, yTicks22), buildYAxis(1, -0.085, 3.5, yTicks20)],
      series: [
        ...buildSeries([measured22, proposed22, noct22, king22, skoplaki22, pvsyst22], 0),
        ...buildSeries([measured20, proposed20, noct20, king20, skoplaki20, pvsyst20], 1),
      ],
      graphic: [
        { type: "text", x: 734, y: 830, style: { ...labelStyle, text: panelLabels[0] } },
        { type: "text", x: 734, y: 1700, style: { ...labelStyle, text: panelLabels[1] } },
      ],
    };
    chart.setOption(option);
    return () => chart.dispose();
  }, []);

  return (
    <div
      ref={ref}
      style={{ position: "absolute", left: 0, top: 0, width: 1469, height: 1743, background: "#fff" }}
    />
  );
}
